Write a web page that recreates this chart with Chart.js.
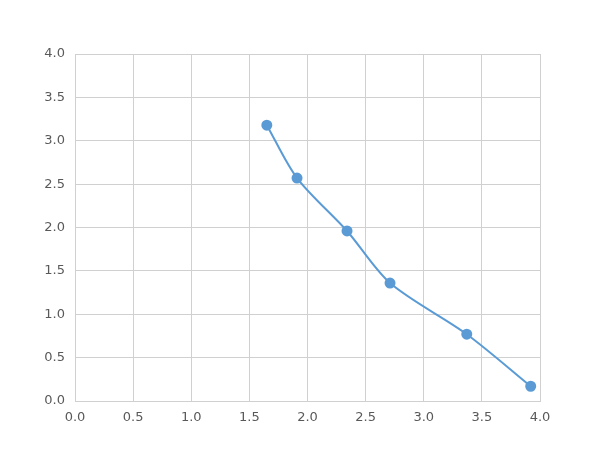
<!DOCTYPE html>
<html>
<head>
<meta charset="utf-8">
<script src="https://cdn.jsdelivr.net/npm/chart.js@4.4.0/dist/chart.umd.min.js"></script>
<style>
  html, body { margin: 0; padding: 0; background: #fff; }
  #wrap { width: 600px; height: 450px; }
</style>
</head>
<body>
<div id="wrap"><canvas id="chart" width="600" height="450"></canvas></div>
<script>
const xValues = [1.65, 1.91, 2.34, 2.71, 3.37, 3.92];
const yValues = [3.18, 2.57, 1.96, 1.36, 0.77, 0.17];
const axisMin = 0;
const axisMax = 4;
const axisStep = 0.5;

const points = xValues.map((x, i) => ({ x: x, y: yValues[i] }));

Chart.defaults.font.family = 'DejaVu Sans, sans-serif';
Chart.defaults.font.size = 13;
Chart.defaults.color = '#595959';

new Chart(document.getElementById('chart').getContext('2d'), {
  type: 'scatter',
  data: {
    datasets: [{
      data: points,
      showLine: true,
      borderColor: '#5b9bd5',
      backgroundColor: '#5b9bd5',
      pointBackgroundColor: '#5b9bd5',
      pointBorderColor: '#5b9bd5',
      borderWidth: 2,
      pointRadius: 4.5,
      tension: 0.3
    }]
  },
  options: {
    responsive: false,
    animation: false,
    layout: { padding: { top: 54, right: 60, left: 0, bottom: 0 } },
    plugins: { legend: { display: false }, tooltip: { enabled: false } },
    scales: {
      x: {
        type: 'linear',
        min: axisMin,
        max: axisMax,
        ticks: { stepSize: axisStep, padding: 9, callback: v => v.toFixed(1) },
        grid: { color: '#d0d0d0', drawTicks: false },
        border: { color: '#d0d0d0' },
        afterFit: axis => { axis.height = 49; }
      },
      y: {
        type: 'linear',
        min: axisMin,
        max: axisMax,
        ticks: { stepSize: axisStep, padding: 10, callback: v => v.toFixed(1) },
        grid: { color: '#d0d0d0', drawTicks: false },
        border: { color: '#d0d0d0' },
        afterFit: axis => { axis.width = 75; }
      }
    }
  }
});
</script>
</body>
</html>
